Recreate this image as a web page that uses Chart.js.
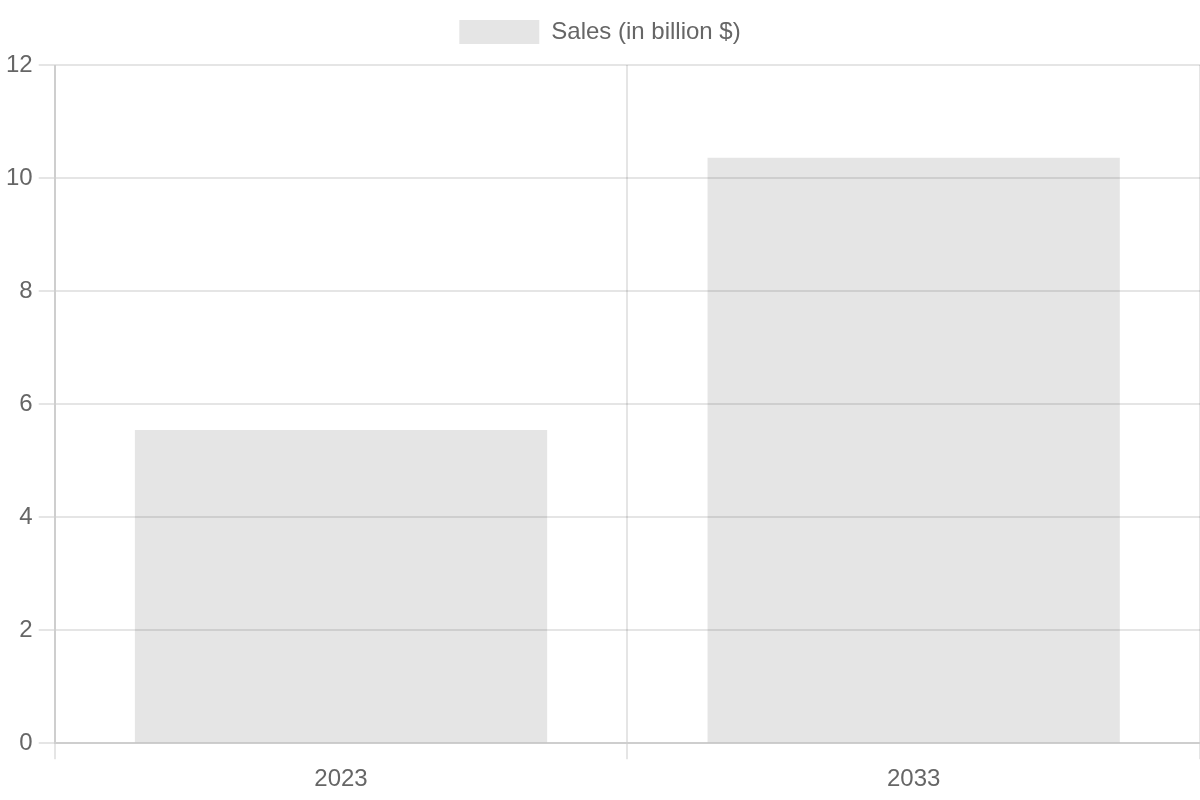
<!DOCTYPE html>
<html>
<head>
<meta charset="utf-8">
<script src="https://cdn.jsdelivr.net/npm/chart.js@4/dist/chart.umd.min.js"></script>
<style>
    html, body { margin: 0; padding: 0; background: #fff; overflow: hidden; }
    #wrap { width: 1200px; height: 800px; }
</style>
</head>
<body>
<div id="wrap"><canvas id="salesChart"></canvas></div>
<script>
// ==================== DATA ====================
const years = ['2023', '2033'];
const sales = [5.54, 10.36];
const seriesLabel = 'Sales (in billion $)';

// ==================== CHART ====================
// everything is drawn at twice the usual default size
Chart.defaults.font.family = "'Helvetica Neue', 'Helvetica', 'Arial', 'Liberation Sans', sans-serif";
Chart.defaults.font.size = 24;
Chart.defaults.color = '#666';

const gridStyle = { color: 'rgba(0, 0, 0, 0.1)', lineWidth: 2, tickLength: 16 };
const borderStyle = { color: 'rgba(0, 0, 0, 0.1)', width: 2 };

// a bit more room between the legend and the plot area
const legendGap = {
    id: 'legendGap',
    beforeInit(chart) {
        const fit = chart.legend.fit;
        chart.legend.fit = function() {
            fit.call(this);
            this.height += 11;
        };
    }
};

const ctx = document.getElementById('salesChart');
new Chart(ctx, {
    type: 'bar',
    data: {
        labels: years,
        datasets: [{
            label: seriesLabel,
            data: sales,
            backgroundColor: 'rgba(0, 0, 0, 0.1)',
            borderColor: 'rgba(0, 0, 0, 0.1)',
            borderWidth: 0
        }]
    },
    options: {
        responsive: true,
        maintainAspectRatio: false,
        devicePixelRatio: 1,
        animation: false,
        plugins: {
            legend: {
                display: true,
                labels: { boxWidth: 80, boxHeight: 24, padding: 20 }
            },
            tooltip: { enabled: false }
        },
        scales: {
            x: {
                grid: gridStyle,
                border: borderStyle,
                ticks: { padding: 6 }
            },
            y: {
                beginAtZero: true,
                max: 12,
                grid: gridStyle,
                border: borderStyle,
                ticks: { stepSize: 2, padding: 6 }
            }
        }
    },
    plugins: [legendGap]
});
</script>
</body>
</html>
